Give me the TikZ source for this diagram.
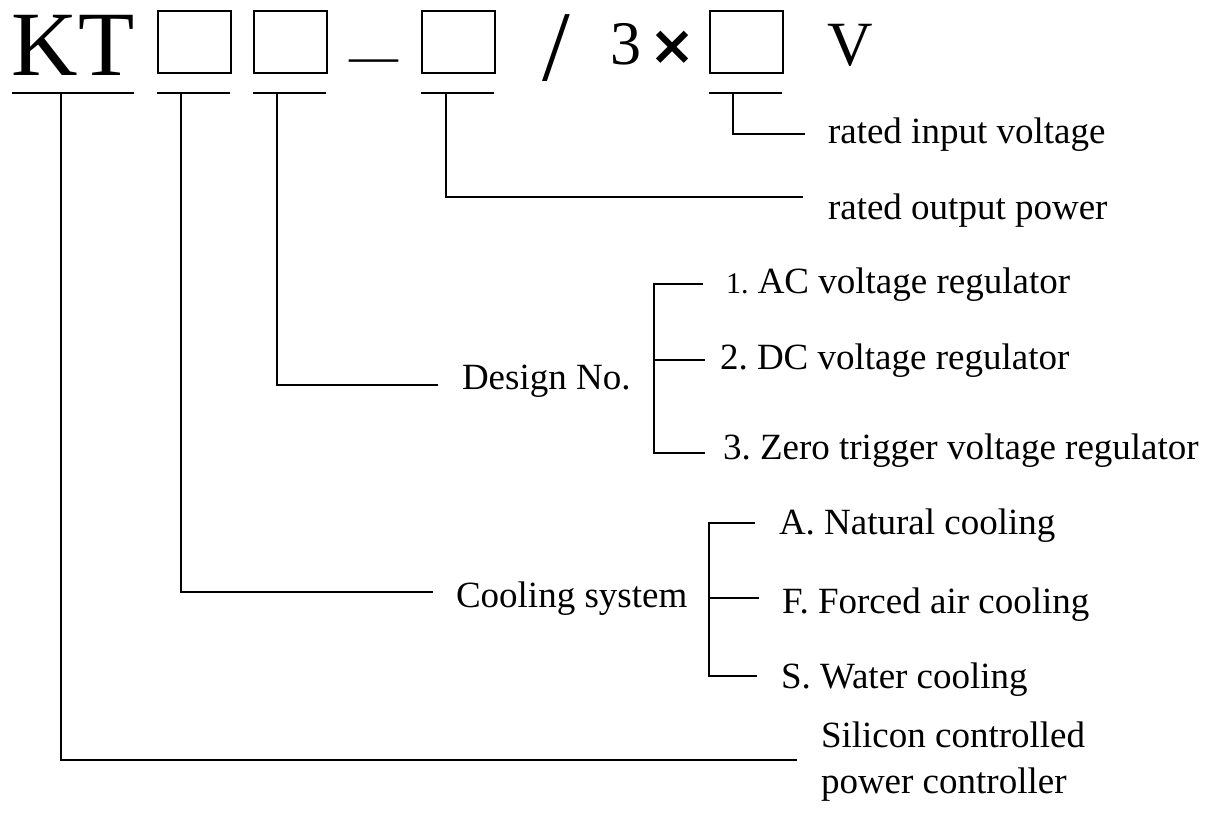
\documentclass[tikz,border=0pt]{standalone}
\usepackage{fontspec}
\setmainfont{Liberation Serif}
\newfontfamily\symfont{DejaVu Sans}
\frenchspacing
\begin{document}
\begin{tikzpicture}[x=1pt,y=-1pt,line width=2pt,
  lbl/.style={anchor=base west,inner sep=0pt,font=\fontsize{37}{46}\selectfont},
  codebox/.style={draw,line width=2pt,minimum width=73pt,minimum height=62pt,inner sep=0pt,anchor=north west},
  big/.style={anchor=base west,inner sep=0pt}]
\useasboundingbox (0,0) rectangle (1211,812);

% code line
\node[big,font=\fontsize{92}{92}\selectfont] (kt) at (11,75) {KT};
\node[codebox] (b1) at (157,10) {};
\node[codebox] (b2) at (253,10) {};
\node[big,font=\fontsize{49}{49}\selectfont] (dash) at (348,72) {—};
\node[codebox] (b3) at (421,10) {};
\node[big,font=\fontsize{100}{100}\selectfont] (slash) at (541,80) {/};
\node[big,font=\fontsize{62}{62}\selectfont] (three) at (609,64) {3};
\node[anchor=center,inner sep=0pt,font=\symfont\bfseries\fontsize{55}{55}\selectfont] (times) at (673,48) {×};
\node[codebox] (b4) at (709,10) {};
\node[big,font=\fontsize{63}{63}\selectfont] (volt) at (826,65) {V};

% underlines
\coordinate (k0) at (12,93);  \coordinate (k1) at (134,93);
\coordinate (c0) at (157,93); \coordinate (c1) at (230,93);
\coordinate (d0) at (253,93); \coordinate (d1) at (326,93);
\coordinate (p0) at (421,93); \coordinate (p1) at (494,93);
\coordinate (v0) at (709,93); \coordinate (v1) at (782,93);
\draw (k0) -- (k1);
\draw (c0) -- (c1);
\draw (d0) -- (d1);
\draw (p0) -- (p1);
\draw (v0) -- (v1);

% stubs
\coordinate (uk) at (61,93);
\coordinate (uc) at (181,93);
\coordinate (ud) at (277,93);
\coordinate (up) at (446,93);
\coordinate (uv) at (733,93);

% labels
\node[lbl] (rin) at (827,143) {rated input voltage};
\node[lbl] (rout) at (827,219) {rated output power};
\node[lbl] (design) at (461,389) {Design No.};
\node[lbl] (ac) at (725,293) {{\fontsize{30}{30}\selectfont 1.} AC voltage regulator};
\node[lbl] (dc) at (719,369) {2. DC voltage regulator};
\node[lbl] (zero) at (722,459) {3. Zero trigger voltage regulator};
\node[lbl] (cool) at (455,607) {Cooling system};
\node[lbl] (nat) at (778,534) {A. Natural cooling};
\node[lbl] (forced) at (781,613) {F. Forced air cooling};
\node[lbl] (water) at (780,688) {S. Water cooling};
\node[lbl] (scr) at (820,747) {\begin{tabular}[t]{@{}l@{}}Silicon controlled\\power controller\end{tabular}};

% connector ends
\coordinate (ev) at (805,134);
\coordinate (ep) at (803,197);
\coordinate (ed) at (438,385);
\coordinate (ec) at (433,592);
\coordinate (ek) at (797,760);
\draw (uv) |- (ev);
\draw (up) |- (ep);
\draw (ud) |- (ed);
\draw (uc) |- (ec);
\draw (uk) |- (ek);

% bracket for design
\coordinate (dt) at (703,284);
\coordinate (dm) at (705,360);
\coordinate (db) at (705,453);
\coordinate (dj) at (654,360);
\draw (dt) -| (dj) |- (db);
\draw (dj) -- (dm);

% bracket for cooling
\coordinate (ct) at (755,523);
\coordinate (cm) at (759,598);
\coordinate (cb) at (757,676);
\coordinate (cj) at (709,598);
\draw (ct) -| (cj) |- (cb);
\draw (cj) -- (cm);
\end{tikzpicture}
\end{document}
